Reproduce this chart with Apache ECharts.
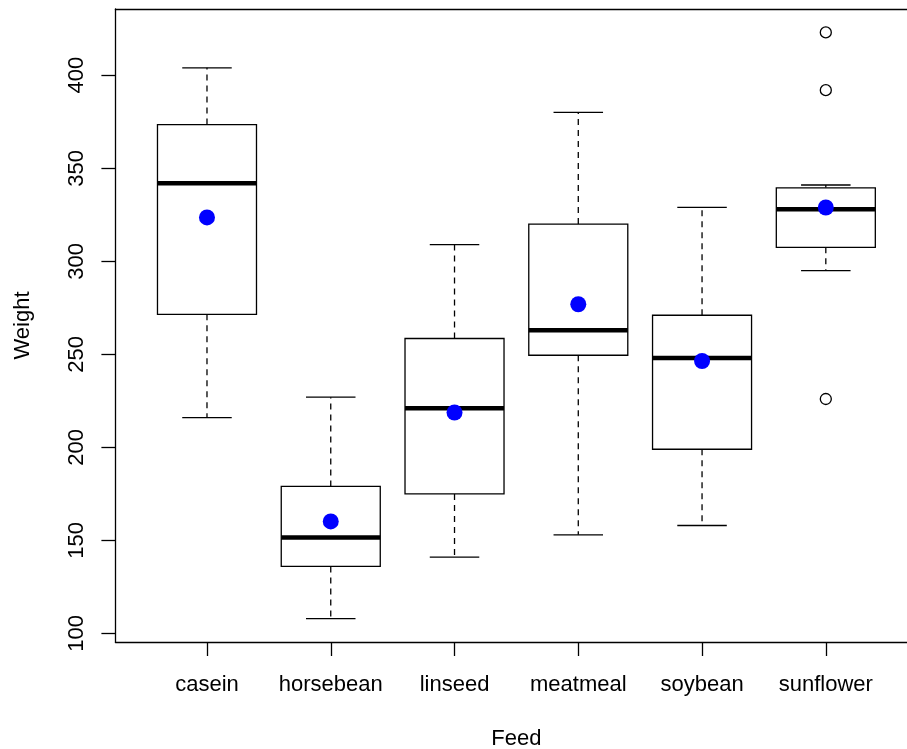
<!DOCTYPE html>
<html>
<head>
<meta charset="utf-8">
<script src="https://cdn.jsdelivr.net/npm/echarts@6/dist/echarts.min.js"></script>
<style>
  html, body { margin: 0; padding: 0; background: #fff; }
  #chart { width: 907px; height: 749px; }
</style>
</head>
<body>
<div id="chart"></div>
<script>
// Chick weights by feed supplement: five-number summaries, means and outliers
const feeds = ['casein', 'horsebean', 'linseed', 'meatmeal', 'soybean', 'sunflower'];
const whiskerLow  = [216, 108, 141, 153, 158, 295];
const hingeLow    = [271.5, 136, 175, 249.5, 199, 307.5];
const medians     = [342, 151.5, 221, 263, 248, 328];
const hingeHigh   = [373.5, 179, 258.5, 320, 271, 339.5];
const whiskerHigh = [404, 227, 309, 380, 329, 341];
const means       = [323.58, 160.2, 218.75, 276.91, 246.43, 328.92];
const outlierFeed  = ['sunflower', 'sunflower', 'sunflower'];
const outlierValue = [226, 392, 423];
const yTicks = [100, 150, 200, 250, 300, 350, 400];

const FONT = '"Liberation Sans", Arial, Helvetica, sans-serif';
const positions = feeds.map((_, i) => i + 1);

const boxData = feeds.map((_, i) => [
  i + 1, whiskerLow[i], hingeLow[i], medians[i], hingeHigh[i], whiskerHigh[i]
]);
const meanData = feeds.map((_, i) => [i + 1, means[i]]);
const outlierData = outlierFeed.map((f, i) => [feeds.indexOf(f) + 1, outlierValue[i]]);

function renderBox(params, api) {
  const x = api.value(0);
  const half = api.size([0.8, 0])[0] / 2;
  const capHalf = half / 2;
  const pt = k => api.coord([x, api.value(k)]);
  const wl = pt(1), hl = pt(2), md = pt(3), hh = pt(4), wh = pt(5);
  const cx = wl[0];
  const thin = { stroke: '#000', lineWidth: 1.3, fill: null };
  const dashed = { stroke: '#000', lineWidth: 1.3, lineDash: [6, 5], fill: null };
  return {
    type: 'group',
    children: [
      { type: 'line', shape: { x1: cx, y1: hh[1], x2: cx, y2: wh[1] }, style: dashed },
      { type: 'line', shape: { x1: cx, y1: hl[1], x2: cx, y2: wl[1] }, style: dashed },
      { type: 'line', shape: { x1: cx - capHalf, y1: wh[1], x2: cx + capHalf, y2: wh[1] }, style: thin },
      { type: 'line', shape: { x1: cx - capHalf, y1: wl[1], x2: cx + capHalf, y2: wl[1] }, style: thin },
      { type: 'rect', shape: { x: cx - half, y: hh[1], width: 2 * half, height: hl[1] - hh[1] },
        style: { fill: '#fff', stroke: '#000', lineWidth: 1.3 } },
      { type: 'line', shape: { x1: cx - half, y1: md[1], x2: cx + half, y2: md[1] },
        style: { stroke: '#000', lineWidth: 4.5, fill: null } }
    ]
  };
}

const axisLineStyle = { color: '#000', width: 1.3 };

const chart = echarts.init(document.getElementById('chart'), null, { renderer: 'canvas' });
chart.setOption({
  animation: false,
  backgroundColor: '#fff',
  grid: {
    left: 115.4, top: 9, width: 802, height: 633,
    show: false, containLabel: false, outerBoundsMode: 'none'
  },
  xAxis: [
    {
      type: 'value', min: 0.26, max: 6.74,
      name: 'Feed', nameLocation: 'middle', nameGap: 86,
      nameTextStyle: { fontFamily: FONT, fontSize: 22, color: '#000' },
      axisLine: { show: true, onZero: false, lineStyle: axisLineStyle },
      axisTick: { show: true, length: 14, customValues: positions, lineStyle: axisLineStyle },
      axisLabel: {
        customValues: positions, margin: 32, color: '#000', fontFamily: FONT, fontSize: 22,
        formatter: v => feeds[Math.round(v) - 1] || ''
      },
      splitLine: { show: false }
    },
    {
      // top edge of the plot frame
      type: 'value', position: 'top', min: 0.26, max: 6.74,
      axisLine: { show: true, onZero: false, lineStyle: axisLineStyle },
      axisTick: { show: false }, axisLabel: { show: false }, splitLine: { show: false }
    }
  ],
  yAxis: {
    type: 'value', min: 95.4, max: 435.6,
    name: 'Weight', nameLocation: 'middle', nameGap: 81, nameRotate: 90,
    nameTextStyle: { fontFamily: FONT, fontSize: 22, color: '#000' },
    axisLine: { show: true, onZero: false, lineStyle: axisLineStyle },
    axisTick: { show: true, length: 14, customValues: yTicks, lineStyle: axisLineStyle },
    axisLabel: {
      customValues: yTicks, rotate: 90, margin: 27, color: '#000', fontFamily: FONT, fontSize: 22
    },
    splitLine: { show: false }
  },
  series: [
    {
      type: 'custom', renderItem: renderBox, data: boxData,
      encode: { x: 0, y: [1, 2, 3, 4, 5] }, z: 2, clip: false, silent: true
    },
    {
      type: 'scatter', data: outlierData, symbol: 'circle', symbolSize: 11, silent: true,
      itemStyle: { color: 'transparent', borderColor: '#000', borderWidth: 1.3, opacity: 1 }, z: 3
    },
    {
      type: 'scatter', data: meanData, symbol: 'circle', symbolSize: 16, silent: true,
      itemStyle: { color: '#0000ff', opacity: 1 }, z: 4
    }
  ]
});
</script>
</body>
</html>
